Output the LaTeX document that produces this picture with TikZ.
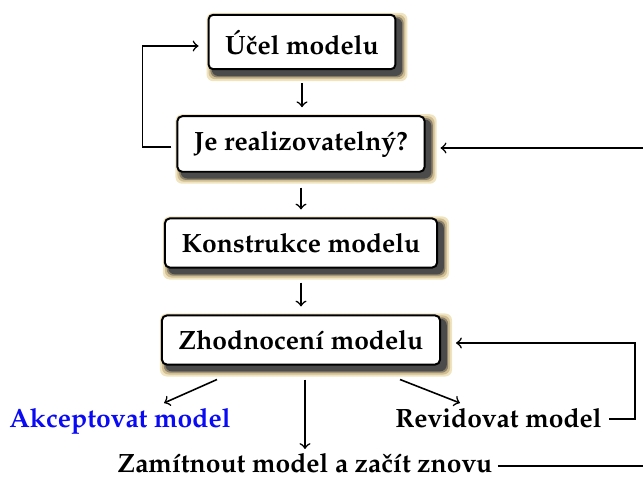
\documentclass[tikz,border=0pt]{standalone}
\usepackage[T1]{fontenc}
\usepackage{mathpazo}
\usetikzlibrary{calc,backgrounds}
\definecolor{shA}{RGB}{240,228,192}
\definecolor{shB}{RGB}{208,190,146}
\definecolor{shC}{RGB}{140,130,108}
\definecolor{shD}{RGB}{75,75,75}
\definecolor{acc}{RGB}{10,10,245}
\newcommand\myshadow[1]{%
  \foreach \e/\c in {6/shA,4/shB,2.2/shC,0.8/shD}{%
    \fill[\c, rounded corners=2.5pt] ($(#1.north west)+(5-\e,5-\e)$) rectangle ($(#1.south east)+(5+\e,5+\e)$);}}
\begin{document}
\begin{tikzpicture}[x=0.378pt,y=-0.378pt,
  stepbox/.style={draw=black, line width=0.75pt, rounded corners=1.8pt, fill=white,
    inner xsep=6.3pt, inner ysep=5.6pt, font=\bfseries},
  lbl/.style={font=\bfseries, inner sep=0pt},
  arr/.style={->, line width=0.6pt},
  ln/.style={line width=0.6pt}]
\useasboundingbox (0,0) rectangle (643,478);

\node[stepbox] (b1) at (302,42) {\'U\v{c}el modelu};
\node[stepbox] (b2) at (301,144) {Je realizovateln\'y?};
\node[stepbox] (b3) at (301,243) {Konstrukce modelu};
\node[stepbox] (b4) at (301,340) {Zhodnocen\'\i{} modelu};

\begin{scope}[on background layer]
\myshadow{b1}\myshadow{b2}\myshadow{b3}\myshadow{b4}
\end{scope}

\node[lbl, text=acc, anchor=base] (ak) at (120,427) {Akceptovat model};
\node[lbl, anchor=base] (rv) at (498.5,428) {Revidovat model};
\node[lbl, anchor=base] (zm) at (305,473) {Zam\'\i tnout model a za\v{c}\'\i t znovu};

% main chain
\draw[arr] ($(b1.south)+(0,13)$) -- ($(b1.south |- b2.north)+(0,-8)$);
\draw[arr] ($(b2.south)+(0,15)$) -- ($(b2.south |- b3.north)+(0,-8)$);
\draw[arr] ($(b3.south)+(0,14)$) -- ($(b3.south |- b4.north)+(0,-8)$);

% left loop
\draw[arr] ($(b2.west)+(-5,3)$) -- ++(-29,0) |- ($(b1.west)+(-9,4)$);

% outcomes
\draw[arr] ($(b4.south)+(-84,14)$) -- ($(ak.base)+(44,-24)$);
\draw[arr] ($(b4.south)+(4,14)$) -- ($(zm.base)+(0,-24)$);
\draw[arr] ($(b4.south)+(99,14)$) -- ($(rv.base)+(-38.5,-25)$);

% revise loop
\draw[arr] ($(rv.base east)+(7,-9)$) -- (635,419) |- ($(b4.east)+(15,3)$);

% restart loop
\coordinate (zr) at ($(zm.base east)+(5,-7)$);
\draw[arr] (zr) -- (660,466) |- ($(b2.east)+(15,4)$);
\end{tikzpicture}
\end{document}
